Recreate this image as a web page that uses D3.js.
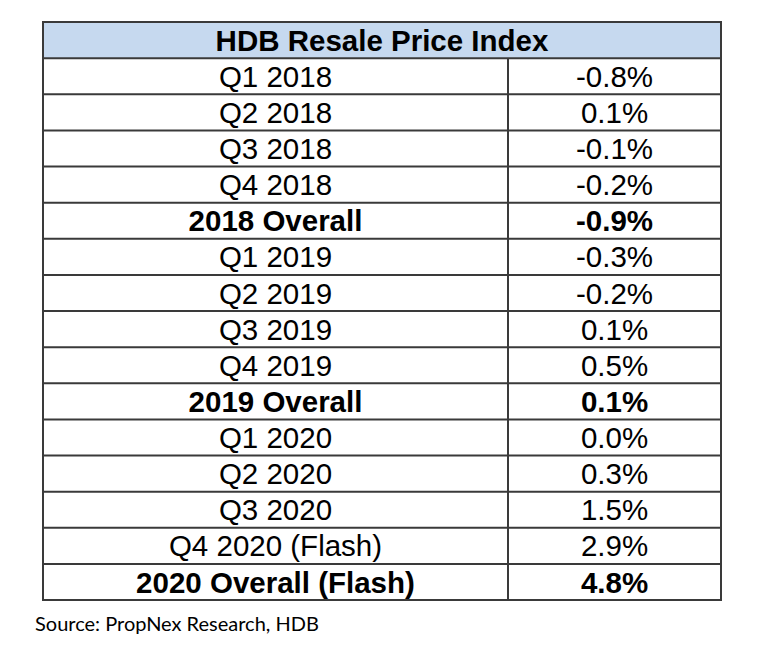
<!DOCTYPE html>
<html>
<head>
<meta charset="utf-8">
<script src="https://cdn.jsdelivr.net/npm/d3@7"></script>
<style>
html,body{margin:0;padding:0;background:#fff;}
svg{display:block;}
</style>
</head>
<body>
<svg id="chart" width="758" height="656"></svg>
<script>
const title = "HDB Resale Price Index";
const periods = ["Q1 2018","Q2 2018","Q3 2018","Q4 2018","2018 Overall","Q1 2019","Q2 2019","Q3 2019","Q4 2019","2019 Overall","Q1 2020","Q2 2020","Q3 2020","Q4 2020 (Flash)","2020 Overall (Flash)"];
const values = ["-0.8%","0.1%","-0.1%","-0.2%","-0.9%","-0.3%","-0.2%","0.1%","0.5%","0.1%","0.0%","0.3%","1.5%","2.9%","4.8%"];
const overallRows = ["2018 Overall","2019 Overall","2020 Overall (Flash)"];
const source = "Source: PropNex Research, HDB";

(function(){
const svg = d3.select("#chart");
const tLeft = 43, tRight = 721, tTop = 22, tBottom = 600, colSplit = 508;
const rowKeys = ["__title__"].concat(periods);
const y = d3.scaleBand().domain(rowKeys).range([tTop, tBottom]);
const x = d3.scaleOrdinal().domain(["period","value"]).range([(tLeft+colSplit)/2, (colSplit+tRight)/2]);
const font = "'Liberation Sans', Arial, sans-serif";
const stroke = "#3a3a3a";

svg.append("rect").attr("x", tLeft).attr("y", y("__title__")).attr("width", tRight-tLeft).attr("height", y.bandwidth()).attr("fill", "#c6d9ef");

svg.append("text").attr("x", (tLeft+tRight)/2).attr("y", y("__title__") + y.bandwidth()/2).attr("dy", "0.36em")
  .attr("text-anchor","middle").attr("font-family",font).attr("font-size", 29.5).attr("font-weight","bold").attr("fill","#000").text(title);

const rows = svg.append("g").selectAll("g").data(periods).join("g");
rows.append("text").attr("x", x("period")).attr("y", d => y(d) + y.bandwidth()/2).attr("dy","0.36em")
  .attr("text-anchor","middle").attr("font-family",font).attr("font-size", 29.5)
  .attr("font-weight", d => overallRows.includes(d) ? "bold" : "normal").attr("fill","#000").text(d => d);
rows.append("text").attr("x", x("value")).attr("y", d => y(d) + y.bandwidth()/2).attr("dy","0.36em")
  .attr("text-anchor","middle").attr("font-family",font).attr("font-size", 29.5)
  .attr("font-weight", d => overallRows.includes(d) ? "bold" : "normal").attr("fill","#000").text((d,i) => values[i]);

const lines = svg.append("g").attr("stroke", stroke).attr("stroke-width", 2);
rowKeys.slice(1).forEach(k => {
  lines.append("line").attr("x1", tLeft).attr("x2", tRight).attr("y1", y(k)).attr("y2", y(k));
});
lines.append("line").attr("x1", colSplit).attr("x2", colSplit).attr("y1", y(periods[0])).attr("y2", tBottom);
lines.append("rect").attr("x", tLeft).attr("y", tTop).attr("width", tRight-tLeft).attr("height", tBottom-tTop).attr("fill","none");

svg.append("text").attr("x", 35).attr("y", 631).attr("font-family","Lato, 'Open Sans', sans-serif").attr("font-size", 20).attr("fill","#000").text(source);
})();
</script>
</body>
</html>
